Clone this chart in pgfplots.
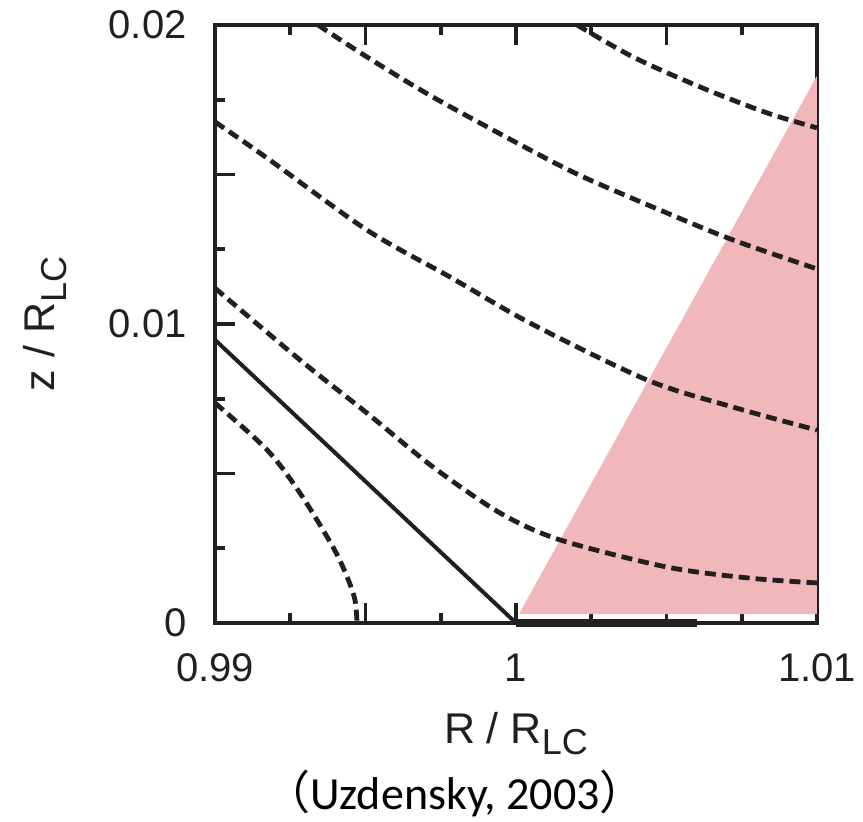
\documentclass[border=0pt]{standalone}
\usepackage{pgfplots}
\pgfplotsset{compat=1.18}
\usepackage{fontspec}
\setmainfont{Liberation Sans}
\newfontfamily\calibri{Carlito}
\newfontfamily\cjk{Noto Sans CJK SC}
\definecolor{lcpink}{RGB}{241,184,187}
\definecolor{ink}{RGB}{35,31,32}
\newcommand\sub[1]{\raisebox{-5.75pt}{\fontsize{18}{18}\selectfont #1}}
\begin{document}
\begin{tikzpicture}
\begin{axis}[
  scale only axis, width=301pt, height=299pt,
  xmin=0.99, xmax=1.01, ymin=0, ymax=0.02,
  scaled x ticks=false, scaled y ticks=false,
  xtick={0.99,0.995,1,1.005,1.01}, xticklabels={0.99,,1,,1.01},
  minor xtick={0.9925,0.9975,1.0025,1.0075},
  ytick={0,0.005,0.01,0.015,0.02}, yticklabels={0,,0.01,,0.02},
  minor ytick={0.0025,0.0075,0.0125,0.0175},
  tick align=inside, major tick length=10pt, minor tick length=5pt,
  every tick/.style={ink, line width=1.8pt},
  axis line style={ink, line width=1.7pt},
  /pgf/number format/assume math mode=true,
  ticklabel style={font=\fontsize{20}{24}\selectfont, inner sep=0pt, text=ink},
  xticklabel style={anchor=base, yshift=-29.5pt},
  yticklabel style={anchor=east, xshift=-14pt},
  xlabel={R / R\sub{LC}},
  xlabel style={at={(axis description cs:0.5,-0.2007)}, anchor=base, inner sep=0pt, font=\fontsize{21.5}{24}\selectfont, text=ink},
  ylabel={z / R\sub{LC}},
  ylabel style={at={(axis description cs:-0.2458,0.5)}, anchor=south, inner sep=0pt, font=\fontsize{21.5}{24}\selectfont, text=ink},
  clip=false,
  dsh/.style={ink, line width=2.4pt, dash pattern=on 5.5pt off 3pt, smooth},
]
% shaded region
\addplot[fill=lcpink, draw=none] coordinates {(1.0001,0.0003) (1.01,0.0183) (1.01,0.0003)};
% solid line
\addplot[ink, line width=2pt] coordinates {(0.99,0.00947) (1.0,0)};
\addplot[ink, line width=3.8pt] coordinates {(1.0,0) (1.006,0)};
% dashed field lines
\addplot[dsh] coordinates {(0.99,0.00736) (0.99173,0.00579) (0.99282,0.00435) (0.99392,0.00254) (0.99439,0.00154) (0.99465,0.00077) (0.99472,0)};
\addplot[dsh] coordinates {(0.99,0.0112) (0.99282,0.0088) (0.99505,0.00702) (0.99724,0.00522) (0.99947,0.00368) (1.00146,0.00278) (1.00502,0.00187) (1.00777,0.0015) (1.01,0.00134)};
\addplot[dsh] coordinates {(0.99,0.01676) (0.99173,0.01555) (0.99505,0.01314) (0.99781,0.01157) (1.00047,0.01003) (1.00435,0.00813) (1.00721,0.00722) (1.01,0.00645)};
\addplot[dsh] coordinates {(0.99342,0.02) (0.99505,0.01893) (0.99724,0.01759) (1.00047,0.01582) (1.00223,0.01492) (1.00502,0.01371) (1.00721,0.01281) (1.01,0.01184)};
\addplot[dsh] coordinates {(1.00203,0.02) (1.00389,0.01893) (1.00611,0.01793) (1.00834,0.01706) (1.01,0.01656)};
\node[anchor=base, inner sep=0pt, font=\calibri\fontsize{23}{26}\selectfont] at (axis description cs:0.3987,-0.3127) {{\cjk （}Uzdensky, 2003{\cjk ）}};
\end{axis}
\pgfresetboundingbox
\path[use as bounding box] ([shift={(-107.5pt,-99.5pt)}]current axis.south west) rectangle ([shift={(324pt,311.5pt)}]current axis.south west);
\end{tikzpicture}
\end{document}
